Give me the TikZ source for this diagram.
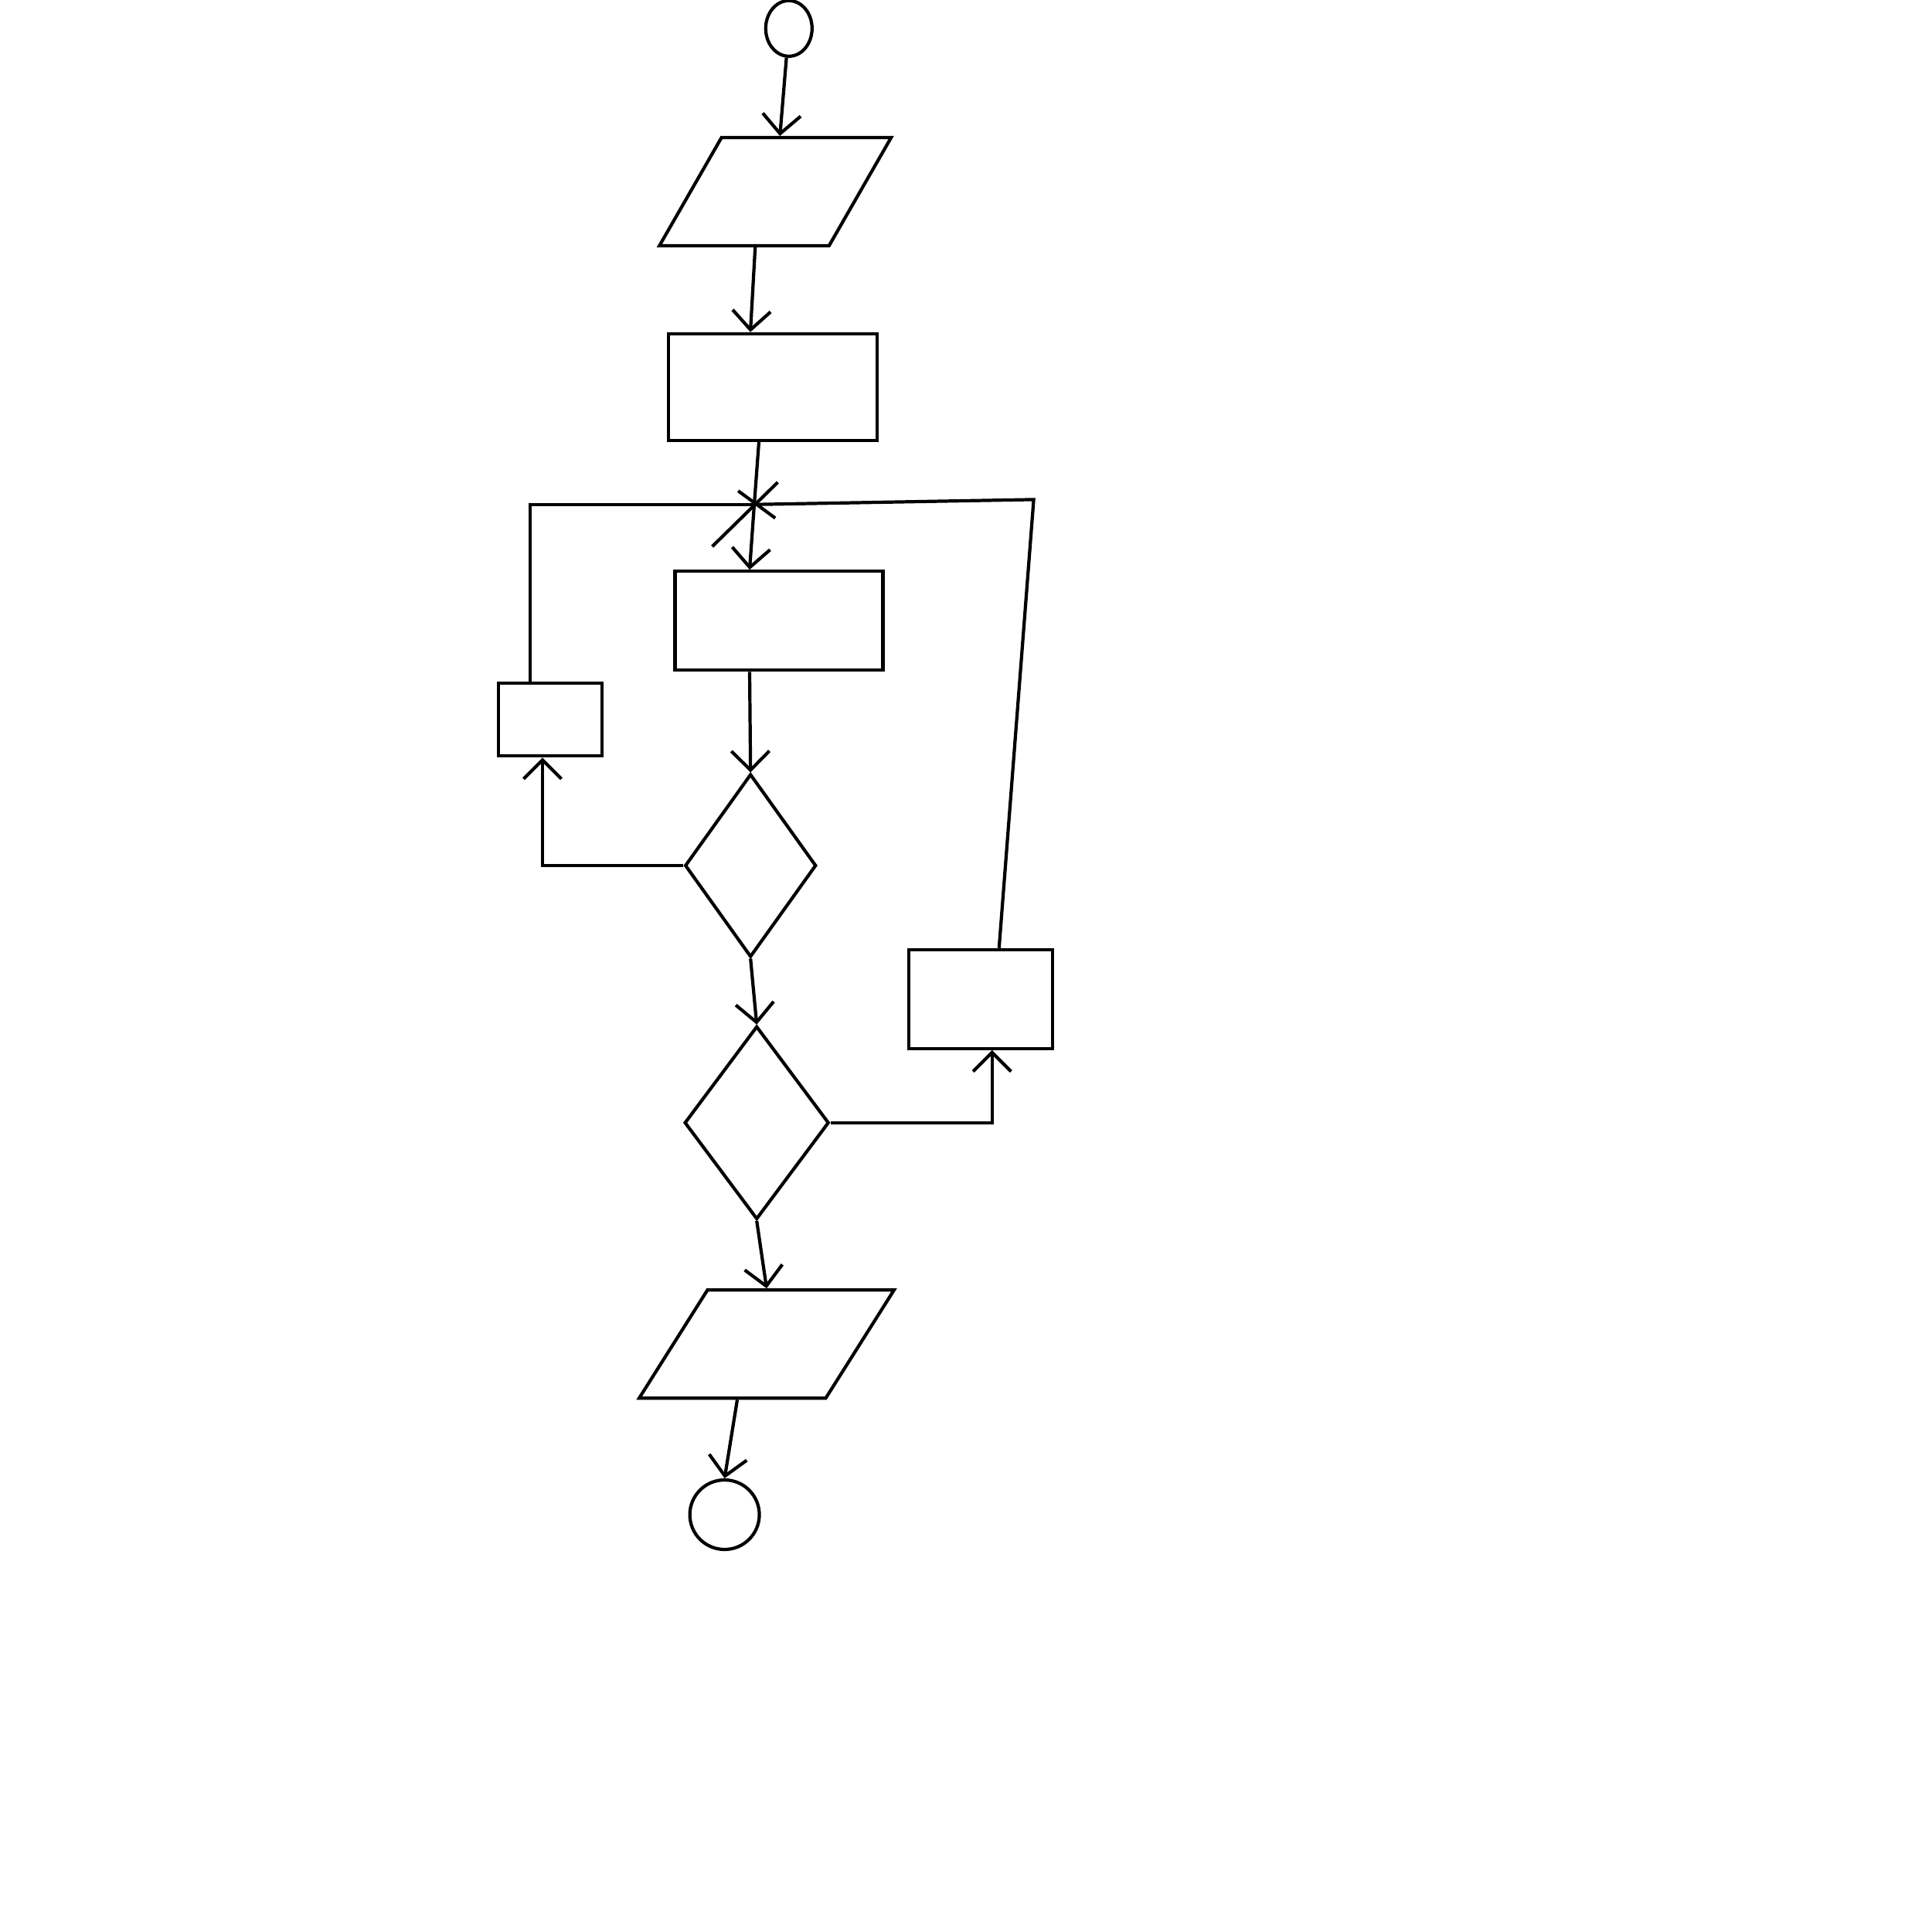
\documentclass[tikz,border=0pt]{standalone}
\usetikzlibrary{positioning, shapes.geometric, arrows.meta}

\begin{document}
\begin{tikzpicture}[x=0.016cm, y=-0.016cm, line width=1.2pt,
		terminal/.style={draw, ellipse, inner sep=0pt},
		io/.style={draw, trapezium, trapezium left angle=60, trapezium right angle=120, trapezium stretches=true, inner sep=2pt, minimum height=1.4cm},
		box/.style={draw, rectangle, inner sep=0pt},
		decision/.style={draw, diamond, inner sep=0pt},
		flow/.style={-{Straight Barb[length=7pt,width=14pt]}}]
	\useasboundingbox (0,0) rectangle (1562.5,1562.5);
	% main column
	\node[terminal, minimum width=0.6cm, minimum height=0.72cm] (start) at (638,23) {};
	\node[io, minimum width=3cm] (read) at (627,155) {};
	\node[box, minimum width=2.7cm, minimum height=1.38cm] (init) at (625,313) {};
	\coordinate (join) at (610,408);
	\node[box, minimum width=2.69cm, minimum height=1.28cm] (body) at (630,502) {};
	\node[decision, minimum width=1.7cm, minimum height=2.37cm] (test1) at (607,700) {};
	\node[decision, minimum width=1.87cm, minimum height=2.5cm] (test2) at (612,908) {};
	\node[io, minimum width=3.3cm] (write) at (620,1087) {};
	\node[terminal, minimum size=0.9cm] (stop) at (586,1225) {};
	% side boxes
	\node[box, minimum width=1.34cm, minimum height=0.94cm] (left) at (445,582) {};
	\node[box, minimum width=1.86cm, minimum height=1.28cm] (right) at (793,808) {};
	\coordinate (rcorner) at (836,404);

	\draw[flow] (start) -- (read);
	\draw[flow] ([xshift=-0.26cm]read.south) -- ([xshift=-0.29cm]init.north);
	\draw ([xshift=-0.18cm]init.south) -- (join);
	\draw[flow] (join) -- ([xshift=-0.38cm]body.north);
	\draw[flow] ([xshift=-0.38cm]body.south) -- (test1.north);
	\draw[flow] (test1.south) -- (test2.north);
	\draw[flow] (test2.south) -- (write.north);
	\draw[flow] ([xshift=-0.38cm]write.south) -- (stop.north);
	% loops back to the join
	\draw[flow] (test1.west) -| ([xshift=-0.1cm]left.south);
	\draw ([xshift=-0.26cm]left.north) |- (join);
	\draw[flow] (test2.east) -| ([xshift=0.15cm]right.south);
	\draw ([xshift=0.24cm]right.north) -- (rcorner) -- (join);
	% merge mark
	\draw (join) ++(-13,-11) -- ++(30,22);
	\draw (join) ++(19,-18) -- ++(-53,52);
\end{tikzpicture}
\end{document}
